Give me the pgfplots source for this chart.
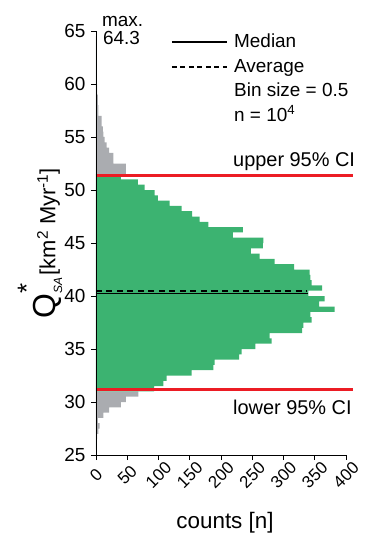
\documentclass[border=0pt]{standalone}
\usepackage{fontspec}
\setmainfont{Liberation Sans}
\usepackage{pgfplots}
\pgfplotsset{compat=1.18}
\definecolor{hgreen}{RGB}{60,179,113}
\definecolor{hgray}{RGB}{170,172,176}
\definecolor{hred}{RGB}{236,28,36}
\newcommand{\fs}{\fontsize{19}{19}\selectfont}
\begin{document}
\begin{tikzpicture}
\begin{axis}[
  scale only axis, width=250bp, height=424bp,
  xmin=0, xmax=400, ymin=25, ymax=65,
  axis x line*=bottom, axis y line*=left,
  axis line style={line width=0.8bp, black},
  xtick={0,50,...,400}, ytick={25,30,...,65},
  tick align=outside, major tick length=5bp,
  tick style={black, line width=0.8bp},
  /pgf/number format/assume math mode=true,
  ticklabel style={font=\fs, text=black},
  yticklabel style={xshift=-2bp},
  xticklabel style={yshift=-15bp, rotate=45, anchor=center, font=\fontsize{17}{17}\selectfont},
  clip=false,
  axis on top,
  xlabel={counts [n]},
  xlabel style={font=\fontsize{22.5}{22.5}\selectfont, at={(axis description cs:0.516,-0.16)}, anchor=center},
  ylabel={$\mbox{\fontsize{32}{32}\selectfont Q}^{\mbox{\fontsize{26}{26}\selectfont *}}_{\mbox{\fontsize{12}{12}\selectfont\itshape SA}}$\,\fontsize{22}{22}\selectfont [km\textsuperscript{2} Myr\textsuperscript{-1}]},
  ylabel style={at={(axis description cs:-0.224,0.5)}, anchor=center},
]
% lower tail (outside CI)
\addplot[xbar interval, fill=hgray, draw=none] coordinates {
(1,25.5) (1,26.0) (2,26.5) (4,27.0) (6,27.5) (3,28.0) (12,28.5) (21,29.0) (40,29.5) (48,30.0) (68,30.5) (0,31.0)};
% within 95% CI
\addplot[xbar interval, fill=hgreen, draw=none] coordinates {
(93,31.0) (108,31.5) (113,32.0) (153,32.5) (188,33.0) (190,33.5) (229,34.0) (233,34.5) (255,35.0) (281,35.5) (278,36.0) (330,36.5) (332,37.0) (345,37.5) (343,38.0) (382,38.5) (357,39.0) (366,39.5) (340,40.0) (362,40.5) (345,41.0) (343,41.5) (342,42.0) (317,42.5) (286,43.0) (262,43.5) (248,44.0) (267,44.5) (268,45.0) (219,45.5) (235,46.0) (180,46.5) (166,47.0) (154,47.5) (137,48.0) (118,48.5) (99,49.0) (94,49.5) (78,50.0) (67,50.5) (40,51.0) (0,51.5)};
% upper tail
\addplot[xbar interval, fill=hgray, draw=none] coordinates {
(48,51.5) (48,52.0) (28,52.5) (28,53.0) (21,53.5) (17,54.0) (14,54.5) (12,55.0) (11,55.5) (9,56.0) (9,56.5) (4,57.0) (4,57.5) (3,58.0) (3,58.5) (2,59.0) (2,59.5) (1,60.0) (0,60.5) (1,61.0) (0,61.5) (1,62.0) (0,62.5) (0,63.0) (0,63.5) (1,64.0) (0,64.5)};
% CI lines
\addplot[hred, line width=2.5bp] coordinates {(0,51.35) (411,51.35)};
\addplot[hred, line width=2.5bp] coordinates {(0,31.2) (411,31.2)};
% median and average
\addplot[black, line width=1.2bp] coordinates {(0,40.22) (340,40.22)};
\addplot[black, line width=1.5bp, dash pattern=on 6bp off 4.5bp] coordinates {(0,40.46) (338,40.46)};
% legend
\draw[black, line width=1.2bp] (axis cs:121.6,63.96) -- (axis cs:209.6,63.96);
\draw[black, line width=1.2bp, dash pattern=on 5bp off 3.5bp] (axis cs:121.6,61.6) -- (axis cs:209.6,61.6);
\node[anchor=base west, inner sep=0, font=\fs] at (axis cs:220.8,63.4) {Median};
\node[anchor=base west, inner sep=0, font=\fs] at (axis cs:220.8,61.08) {Average};
\node[anchor=base west, inner sep=0, font=\fs] at (axis cs:220.8,58.8) {Bin size = 0.5};
\node[anchor=base west, inner sep=0, font=\fs] at (axis cs:220.8,56.5) {n = 10\textsuperscript{4}};
\node[anchor=base west, inner sep=0, font=\fs] at (axis cs:9.6,65.38) {max.};
\node[anchor=base west, inner sep=0, font=\fs] at (axis cs:11,63.68) {64.3};
\node[anchor=base west, inner sep=0, font=\fontsize{20}{20}\selectfont] at (axis cs:219.2,52.26) {upper 95\% CI};
\node[anchor=base west, inner sep=0, font=\fontsize{20}{20}\selectfont] at (axis cs:219.2,28.82) {lower 95\% CI};
\end{axis}
\pgfresetboundingbox
\path[use as bounding box] ([xshift=-96bp,yshift=-86bp]current axis.south west) rectangle ++(365bp,541bp);
\end{tikzpicture}
\end{document}
